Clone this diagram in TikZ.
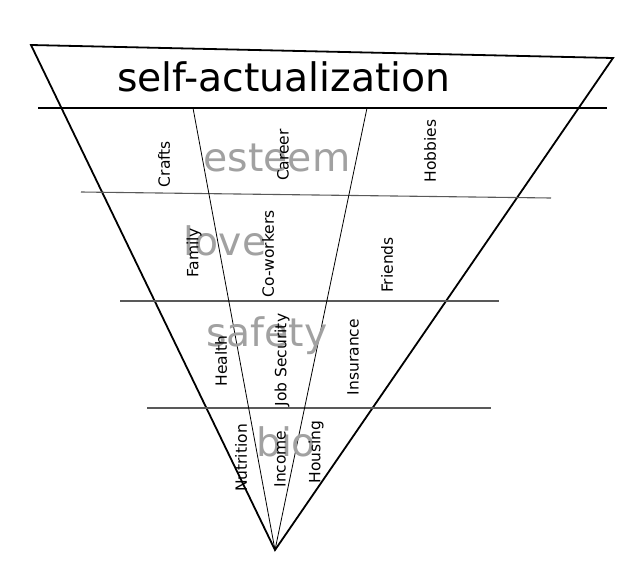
\documentclass[tikz,border=0pt]{standalone}
\usepackage{fontspec}
\setmainfont{DejaVu Sans}
\begin{document}
\begin{tikzpicture}[x=1pt,y=-1pt,
  side/.style={line width=1.8pt,black},
  level/.style={line width=1.1pt,black!65},
  inner/.style={line width=0.8pt,black},
  big/.style={font=\fontsize{39.3}{39.3}\selectfont,inner sep=0pt},
  ghost/.style={big,text=black!37},
  lab/.style={font=\fontsize{15.5}{15.5}\selectfont,rotate=90,inner sep=0pt}]
\useasboundingbox (0,0) rectangle (630,563);
\coordinate (tl) at (31,45);
\coordinate (tr) at (613,58);
\coordinate (apex) at (275,550);
\draw[side,line join=miter] (tr) -- (tl) -- (apex) -- cycle;
\draw[line width=1.6pt] (38,108) -- (607,108);
\draw[level] (81,192) -- (551,198);
\draw[level] (120,301) -- (499,301);
\draw[level] (147,408) -- (491,408);
\draw[inner] (193,108) -- (apex);
\draw[inner] (367,108) -- (apex);
\node[big] (sa) at (284,77) {self-actualization};
\node[ghost] (es) at (277,158) {esteem};
\node[ghost] (lo) at (225,241) {love};
\node[ghost] (sf) at (267,336) {safety};
\node[ghost] (bi) at (286,442) {bio};
\node[lab] (crafts) at (164,164) {Crafts};
\node[lab] (career) at (283,155) {Career};
\node[lab] (hobbies) at (430,151) {Hobbies};
\node[lab] (family) at (194,253) {Family};
\node[lab] (cow) at (268,254) {Co-workers};
\node[lab] (friends) at (387,265) {Friends};
\node[lab] (health) at (221,361) {Health};
\node[lab] (job) at (282,360) {Job Security};
\node[lab] (ins) at (353,357) {Insurance};
\node[lab] (nut) at (241,458) {Nutrition};
\node[lab] (inc) at (280,459) {Income};
\node[lab] (hou) at (316,452) {Housing};
\end{tikzpicture}
\end{document}
